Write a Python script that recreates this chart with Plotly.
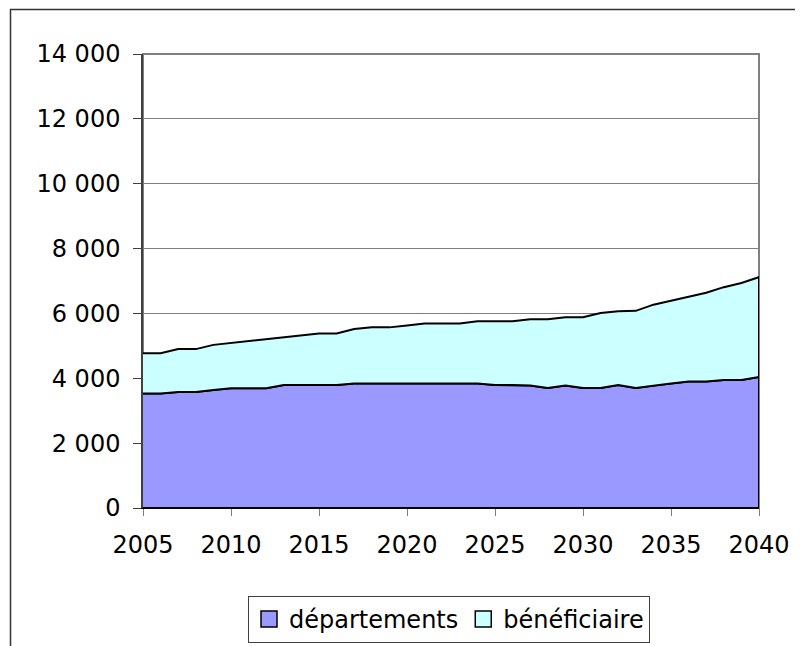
import plotly.graph_objects as go

years = list(range(2005, 2041))
departements = [3530, 3530, 3580, 3580, 3640, 3690, 3690, 3690, 3790, 3790, 3790, 3790,
                3840, 3840, 3840, 3840, 3840, 3840, 3840, 3840,
                3790, 3790, 3780, 3700, 3780, 3700, 3700, 3790, 3700, 3780, 3840, 3900,
                3900, 3950, 3950, 4040]
beneficiaire = [1240, 1240, 1320, 1320, 1390, 1400, 1460, 1520, 1480, 1540, 1590, 1590,
                1680, 1730, 1730, 1790, 1850, 1850, 1850, 1920, 1970, 1970, 2040, 2120,
                2100, 2180, 2310, 2280, 2380, 2490, 2550, 2610, 2740, 2860, 2990, 3080]
series_names = ["départements", "bénéficiaire"]
colors = ["#9999FF", "#CCFFFF"]
y_ticks = list(range(0, 14001, 2000))
x_ticks = list(range(2005, 2041, 5))

total = [d + b for d, b in zip(departements, beneficiaire)]

FONT = "DejaVu Sans"
OFF = 8  # default page body margin
W, H = 803 - OFF, 646 - OFF
# target page-pixel positions of the plot area
PL, PR, PT, PB = 143, 759, 54, 508
L, T = PL - OFF, PT - OFF
R, B = W - (PR - OFF), H - (PB - OFF)
pw, ph = W - L - R, H - T - B

def px_x(px):
    return (px - OFF - L) / pw

def px_y(py):
    return (H - B - (py - OFF)) / ph

fig = go.Figure()

fig.add_trace(go.Scatter(
    x=years + [years[-1], years[0]],
    y=departements + [0, 0],
    fill="toself", fillcolor=colors[0], mode="lines",
    line=dict(color="black", width=2), showlegend=False, hoverinfo="skip"))

fig.add_trace(go.Scatter(
    x=years + years[::-1],
    y=total + departements[::-1],
    fill="toself", fillcolor=colors[1], mode="lines",
    line=dict(color="black", width=2), showlegend=False, hoverinfo="skip"))

for name, c in zip(series_names, colors):
    fig.add_trace(go.Scatter(
        x=[None], y=[None], mode="markers", name=name,
        marker=dict(symbol="square", size=16, color=c,
                    line=dict(color="black", width=1.5))))

fig.update_layout(
    width=W, height=H,
    margin=dict(l=L, r=R, t=T, b=B, autoexpand=False),
    paper_bgcolor="white", plot_bgcolor="white",
    separators=", ",
    font=dict(family=FONT, size=24, color="black"),
    showlegend=True,
    legend=dict(
        orientation="h", x=px_x(449), xanchor="center",
        y=px_y(596), yanchor="top",
        bgcolor="white", bordercolor="#404040", borderwidth=1,
        font=dict(family=FONT, size=24, color="black"),
    ),
    xaxis=dict(
        range=[years[0], years[-1]], tickvals=x_ticks,
        showgrid=False, zeroline=False,
        showline=True, linecolor="black", linewidth=1,
        ticks="outside", ticklen=7, tickcolor="#808080", tickwidth=1,
        ticklabelstandoff=8,
        tickfont=dict(family=FONT, size=24, color="black"),
    ),
    yaxis=dict(
        range=[0, 14000], tickvals=y_ticks, tickformat=",d",
        showgrid=True, gridcolor="#808080", gridwidth=1,
        zeroline=False,
        showline=True, linecolor="#404040", linewidth=1.5,
        ticks="outside", ticklen=8, tickcolor="#404040", tickwidth=1,
        ticklabelstandoff=8,
        tickfont=dict(family=FONT, size=24, color="black"),
    ),
    shapes=[
        dict(type="rect", xref="paper", yref="paper", x0=0, x1=1, y0=0, y1=1,
             line=dict(color="#808080", width=2), layer="below"),
        dict(type="rect", xref="paper", yref="paper",
             x0=px_x(10.5), x1=px_x(820), y0=px_y(660), y1=px_y(9.5),
             line=dict(color="#333333", width=1.5), layer="above"),
    ],
)

fig.write_html("out.html")
